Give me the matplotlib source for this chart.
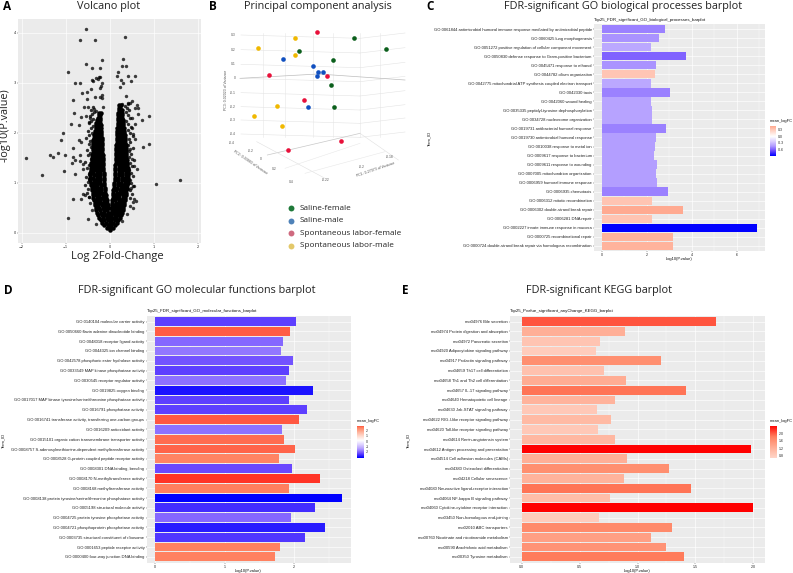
"""Five-panel figure: volcano plot, PCA and three enrichment barplots."""

import matplotlib

matplotlib.use("Agg")

import matplotlib.pyplot as plt
import numpy as np
from matplotlib.colors import LinearSegmentedColormap, Normalize
from matplotlib.ticker import MultipleLocator

# volcano: scattered points
volcano_x = [-0.54, 0.35, -0.68, -0.34, -0.17, 0.29, -0.53, 0.27, 0.37, -0.40, -0.23, -0.95, 0.19, 0.17, 0.41,
             0.58, -0.25, -0.30, -0.22, -0.40, -0.37, -0.26, 0.25, 0.48, -0.78, -0.67, -0.17, 0.31, 0.24, -0.20,
             -0.42, -0.52, -0.63, -0.23, -0.17, 0.36, -0.34, -0.22, -0.83, -0.52, 0.51, -0.18, 0.42, 0.61, 0.20,
             0.28, 0.46, -0.49, -0.59, -0.16, 0.63, 0.57, -0.80, -0.36, -0.30, 0.88, 0.73, -0.66, -0.54, -0.45,
             -0.88, -0.69, -0.48, 0.51, 0.63, -1.07, -1.11, -0.84, -0.69, -0.64, -1.89, -1.36, -1.28, -1.18, -1.02,
             -0.84, -0.86, -0.78, -0.68, 0.88, 0.76, -0.67, -0.61, -1.03, -1.53, -0.79, -0.60, 1.05, 1.59, -0.84,
             -0.64, -0.60, -0.57, -0.46, -0.94, -0.50, 0.54, 0.60, 0.52, 0.46, 0.52, 0.39, -0.41, -0.31, -0.22,
             0.27, -0.45, 0.55, 0.48, 0.42, 0.61, 0.54, 0.50, 0.46, 0.58, 0.52, 0.58, 0.50]
volcano_y = [4.08, 3.93, 3.87, 3.86, 3.45, 3.47, 3.38, 3.35, 3.35, 3.30, 3.31, 3.23, 3.23, 3.14, 3.14,
             3.15, 3.13, 3.11, 3.12, 3.07, 3.05, 3.08, 3.06, 3.04, 2.99, 3.01, 3.00, 2.99, 2.92, 2.93,
             2.87, 2.82, 2.79, 2.90, 2.75, 2.73, 2.72, 2.71, 2.65, 2.67, 2.64, 2.69, 2.58, 2.56, 2.53,
             2.59, 2.61, 2.52, 2.51, 2.52, 2.50, 2.49, 2.40, 2.48, 2.43, 2.34, 2.25, 2.31, 2.33, 2.30,
             2.18, 2.15, 2.21, 2.29, 2.37, 2.01, 1.85, 1.69, 1.85, 1.81, 1.50, 1.56, 1.51, 1.59, 1.56,
             1.52, 1.40, 1.46, 1.56, 1.77, 1.71, 1.43, 1.37, 1.23, 1.15, 1.17, 1.27, 0.97, 1.06, 0.67,
             0.68, 0.78, 0.75, 0.72, 0.30, 0.27, 0.67, 0.63, 0.61, 0.53, 0.50, 0.37, 0.45, 0.17, 0.27,
             0.23, 0.60, 0.93, 0.90, 0.87, 1.27, 1.33, 1.47, 1.67, 1.87, 1.97, 2.17, 2.10]

# volcano: dots thickening the outer edge of the V
edge_x = [-0.47, -0.52, -0.49, -0.55, -0.50, -0.46, -0.53, -0.48, -0.44, -0.51, -0.47, -0.56, -0.43, -0.49, -0.45,
          -0.52, -0.42, -0.48, -0.44, -0.54, -0.46, -0.41, -0.50, -0.43, -0.39, -0.47, -0.42, -0.38, -0.45, -0.40,
          -0.36, -0.43, -0.38, 0.46, 0.50, 0.47, 0.53, 0.49, 0.45, 0.52, 0.48, 0.44, 0.51, 0.46, 0.55, 0.43, 0.48,
          0.44, 0.52, 0.42, 0.47, 0.43, 0.53, 0.46, 0.41, 0.49, 0.42, 0.38, 0.46, 0.41, 0.37, 0.44, 0.39, 0.35, 0.42]
edge_y = [0.72, 0.80, 0.88, 0.95, 1.02, 1.08, 1.12, 1.18, 1.22, 1.30, 1.36, 1.42, 1.48, 1.55, 1.60,
          1.66, 1.72, 1.78, 1.84, 1.90, 1.95, 2.00, 2.05, 2.10, 2.14, 2.19, 2.24, 2.28, 2.34, 2.38,
          2.42, 2.46, 2.52, 0.70, 0.78, 0.86, 0.94, 1.00, 1.06, 1.14, 1.20, 1.26, 1.34, 1.40, 1.46, 1.52, 1.58,
          1.64, 1.70, 1.76, 1.82, 1.88, 1.94, 2.00, 2.06, 2.12, 2.18, 2.24, 2.30, 2.36, 2.42, 2.46, 2.50, 2.54, 2.60]

# volcano: the dense V, row by row
core_rows = [
    (0.05, [0.0]),
    (0.10, [-0.07, 0.0, 0.07]),
    (0.15, [-0.12, -0.04, 0.04, 0.11]),
    (0.20, [-0.17, -0.08, 0.0, 0.08, 0.16]),
    (0.25, [-0.20, -0.12, -0.04, 0.04, 0.12, 0.19]),
    (0.30, [-0.24, -0.15, -0.07, 0.01, 0.08, 0.15, 0.23]),
    (0.35, [-0.26, -0.18, -0.10, -0.03, 0.04, 0.11, 0.18, 0.25]),
    (0.40, [-0.28, -0.20, -0.12, -0.05, 0.01, 0.08, 0.15, 0.21, 0.27]),
    (0.45, [-0.30, -0.22, -0.14, -0.07, 0.05, 0.12, 0.19, 0.24, 0.29]),
    (0.50, [-0.31, -0.24, -0.16, -0.09, -0.04, 0.04, 0.09, 0.16, 0.23, 0.30]),
    (0.55, [-0.33, -0.26, -0.18, -0.11, -0.05, 0.05, 0.12, 0.19, 0.26, 0.32]),
    (0.60, [-0.34, -0.27, -0.20, -0.12, -0.06, 0.06, 0.14, 0.21, 0.28, 0.33]),
    (0.65, [-0.35, -0.28, -0.21, -0.14, -0.07, 0.06, 0.13, 0.20, 0.27, 0.34]),
    (0.70, [-0.37, -0.29, -0.22, -0.15, -0.08, 0.07, 0.15, 0.22, 0.29, 0.35]),
    (0.75, [-0.38, -0.31, -0.24, -0.16, -0.09, 0.07, 0.14, 0.21, 0.29, 0.36]),
    (0.80, [-0.39, -0.32, -0.25, -0.17, -0.10, 0.08, 0.16, 0.23, 0.31, 0.37]),
    (0.85, [-0.40, -0.33, -0.26, -0.19, -0.11, 0.08, 0.15, 0.23, 0.30, 0.38]),
    (0.90, [-0.41, -0.34, -0.27, -0.19, -0.11, 0.09, 0.17, 0.25, 0.32, 0.39]),
    (0.95, [-0.42, -0.35, -0.28, -0.20, -0.12, 0.10, 0.18, 0.25, 0.33, 0.40]),
    (1.00, [-0.43, -0.36, -0.28, -0.21, -0.12, 0.10, 0.18, 0.26, 0.34, 0.41]),
    (1.05, [-0.44, -0.36, -0.29, -0.21, -0.13, 0.11, 0.19, 0.27, 0.35, 0.41]),
    (1.10, [-0.44, -0.37, -0.29, -0.22, -0.13, 0.11, 0.19, 0.27, 0.35, 0.42]),
    (1.15, [-0.44, -0.36, -0.29, -0.21, -0.14, 0.12, 0.20, 0.28, 0.36, 0.42]),
    (1.20, [-0.44, -0.37, -0.29, -0.22, -0.14, 0.12, 0.20, 0.28, 0.36, 0.42]),
    (1.25, [-0.43, -0.36, -0.29, -0.21, -0.15, 0.13, 0.20, 0.28, 0.35, 0.41]),
    (1.30, [-0.43, -0.36, -0.28, -0.22, -0.15, 0.13, 0.21, 0.28, 0.35, 0.41]),
    (1.35, [-0.42, -0.35, -0.28, -0.21, -0.15, 0.13, 0.20, 0.27, 0.34, 0.40]),
    (1.40, [-0.42, -0.35, -0.28, -0.22, -0.16, 0.14, 0.21, 0.28, 0.34, 0.40]),
    (1.45, [-0.41, -0.34, -0.27, -0.21, -0.16, 0.14, 0.20, 0.27, 0.33, 0.39]),
    (1.50, [-0.41, -0.34, -0.27, -0.22, -0.16, 0.14, 0.21, 0.27, 0.33, 0.38]),
    (1.55, [-0.40, -0.33, -0.27, -0.21, -0.16, 0.14, 0.20, 0.26, 0.32, 0.38]),
    (1.60, [-0.39, -0.33, -0.27, -0.22, -0.17, 0.15, 0.21, 0.27, 0.32, 0.37]),
    (1.65, [-0.39, -0.32, -0.26, -0.21, -0.17, 0.15, 0.20, 0.26, 0.31, 0.37]),
    (1.70, [-0.38, -0.32, -0.26, -0.22, -0.17, 0.15, 0.21, 0.26, 0.31, 0.36]),
    (1.75, [-0.38, -0.31, -0.26, -0.21, -0.17, 0.15, 0.20, 0.25, 0.30, 0.36]),
    (1.80, [-0.38, -0.31, -0.26, -0.22, -0.17, 0.16, 0.21, 0.26, 0.31, 0.35]),
    (1.85, [-0.37, -0.30, -0.25, -0.20, -0.17, 0.16, 0.20, 0.25, 0.30, 0.35]),
    (1.90, [-0.36, -0.30, -0.25, -0.21, -0.18, 0.16, 0.21, 0.26, 0.30, 0.34]),
    (1.95, [-0.35, -0.29, -0.24, -0.20, 0.16, 0.20, 0.25, 0.29, 0.34]),
    (2.00, [-0.34, -0.29, -0.24, -0.20, 0.17, 0.21, 0.25, 0.29, 0.33]),
    (2.05, [-0.33, -0.28, -0.24, -0.20, 0.17, 0.21, 0.26, 0.30, 0.33]),
    (2.10, [-0.32, -0.27, -0.23, -0.20, 0.17, 0.21, 0.25, 0.29, 0.32]),
    (2.15, [-0.31, -0.27, -0.23, -0.20, 0.18, 0.22, 0.26, 0.30]),
    (2.20, [-0.30, -0.26, -0.22, 0.18, 0.22, 0.26, 0.30]),
    (2.25, [-0.28, -0.24, -0.21, 0.18, 0.22, 0.25, 0.29]),
    (2.30, [-0.27, -0.23, 0.19, 0.23, 0.27]),
    (2.35, [-0.25, -0.21, 0.19, 0.23, 0.28]),
    (2.40, [-0.24, -0.20, 0.19, 0.23, 0.27]),
    (2.45, [0.20, 0.24, 0.28]),
    (2.50, [0.20, 0.24]),
    (2.55, [0.22, 0.26]),
]

# PCA: positions on the projected 3D view
pca_groups = ["Saline-female", "Saline-male", "Spontaneous labor-female", "Spontaneous labor-male"]
pca_colors = ["#0b5f1c", "#1150c0", "#e8103a", "#f0b800"]
legend_colors = ["#1f7a3a", "#4f82b8", "#cf6a7f", "#e3c86a"]
pca_x = [[448, 544, 283, 383, 379, 388], [234, 325, 354, 339, 337, 309],
         [337, 192, 367, 297, 250, 409], [269, 159, 269, 215, 147, 232]]
pca_y = [[114, 148, 154, 180, 256, 321], [178, 197, 215, 217, 229, 320],
         [95, 225, 229, 301, 451, 423], [115, 144, 165, 317, 348, 377]]
pca_z_ticks = ["0.3", "0.2", "0.1", "0", "-0.1", "-0.2", "-0.3", "-0.4"]
pca_z_levels = [105, 149, 193, 235, 278, 320, 360, 402]

# barplot C
bp_terms = [
    "GO:0061844 antimicrobial humoral immune response mediated by antimicrobial peptide",
    "GO:0060425 lung morphogenesis", "GO:0051272 positive regulation of cellular component movement",
    "GO:0050830 defense response to Gram-positive bacterium", "GO:0045471 response to ethanol",
    "GO:0044782 cilium organization", "GO:0042775 mitochondrial ATP synthesis coupled electron transport",
    "GO:0042330 taxis", "GO:0042060 wound healing", "GO:0035335 peptidyl-tyrosine dephosphorylation",
    "GO:0034728 nucleosome organization", "GO:0019731 antibacterial humoral response",
    "GO:0019730 antimicrobial humoral response", "GO:0010038 response to metal ion",
    "GO:0009617 response to bacterium", "GO:0009611 response to wounding",
    "GO:0007005 mitochondrion organization", "GO:0006959 humoral immune response",
    "GO:0006935 chemotaxis", "GO:0006312 mitotic recombination", "GO:0006302 double-strand break repair",
    "GO:0006281 DNA repair", "GO:0002227 innate immune response in mucosa",
    "GO:0000725 recombinational repair", "GO:0000724 double-strand break repair via homologous recombination",
]
bp_pvalue = [2.81, 2.55, 2.18, 3.75, 2.41, 2.37, 2.21, 3.02, 2.19, 2.24, 2.24, 2.84, 2.41,
             2.37, 2.31, 2.46, 2.41, 2.47, 2.96, 2.25, 3.63, 2.25, 6.90, 3.16, 3.16]
bp_logfc = [-0.50, -0.45, -0.38, -0.58, -0.45, 0.32, -0.38, -0.50, -0.40, -0.40, -0.40, -0.50, -0.42,
            -0.42, -0.42, -0.42, -0.42, -0.42, -0.50, 0.33, 0.46, 0.33, -0.87, 0.42, 0.42]

# barplot D
mf_terms = [
    "GO:0140104 molecular carrier activity", "GO:0050660 flavin adenine dinucleotide binding",
    "GO:0048018 receptor ligand activity", "GO:0044325 ion channel binding",
    "GO:0042578 phosphoric ester hydrolase activity", "GO:0033549 MAP kinase phosphatase activity",
    "GO:0030545 receptor regulator activity", "GO:0019825 oxygen binding",
    "GO:0017017 MAP kinase tyrosine/serine/threonine phosphatase activity", "GO:0016791 phosphatase activity",
    "GO:0016741 transferase activity, transferring one-carbon groups", "GO:0016209 antioxidant activity",
    "GO:0015101 organic cation transmembrane transporter activity",
    "GO:0008757 S-adenosylmethionine-dependent methyltransferase activity",
    "GO:0008528 G-protein coupled peptide receptor activity", "GO:0008301 DNA binding, bending",
    "GO:0008170 N-methyltransferase activity", "GO:0008168 methyltransferase activity",
    "GO:0008138 protein tyrosine/serine/threonine phosphatase activity", "GO:0005198 structural molecule activity",
    "GO:0004725 protein tyrosine phosphatase activity", "GO:0004721 phosphoprotein phosphatase activity",
    "GO:0003735 structural constituent of ribosome", "GO:0001653 peptide receptor activity",
    "GO:0000400 four-way junction DNA binding",
]
mf_pvalue = [2.03, 1.94, 1.84, 1.81, 1.98, 1.92, 1.88, 2.27, 1.92, 2.19, 2.07, 1.83, 1.85,
             2.01, 1.78, 1.97, 2.37, 1.92, 2.68, 2.30, 1.95, 2.44, 2.16, 1.79, 1.72]
mf_logfc = [-2.5, 2.6, -2.1, -1.95, -2.3, -2.5, -2.0, -3.0, -2.5, -2.5, 2.65, -2.0, 2.5,
            2.55, 2.3, -2.4, 2.85, 2.4, -3.2, -2.7, -2.1, -2.9, -2.6, 2.35, 2.35]

# barplot E
kegg_terms = [
    "mo04976 Bile secretion", "mo04974 Protein digestion and absorption", "mo04972 Pancreatic secretion",
    "mo04920 Adipocytokine signaling pathway", "mo04917 Prolactin signaling pathway",
    "mo04659 Th17 cell differentiation", "mo04658 Th1 and Th2 cell differentiation",
    "mo04657 IL-17 signaling pathway", "mo04640 Hematopoietic cell lineage", "mo04630 Jak-STAT signaling pathway",
    "mo04622 RIG-I-like receptor signaling pathway", "mo04620 Toll-like receptor signaling pathway",
    "mo04614 Renin-angiotensin system", "mo04612 Antigen processing and presentation",
    "mo04514 Cell adhesion molecules (CAMs)", "mo04380 Osteoclast differentiation", "mo04218 Cellular senescence",
    "mo04080 Neuroactive ligand-receptor interaction", "mo04064 NF-kappa B signaling pathway",
    "mo04060 Cytokine-cytokine receptor interaction", "mo03450 Non-homologous end-joining",
    "mo02010 ABC transporters", "mo00760 Nicotinate and nicotinamide metabolism",
    "mo00590 Arachidonic acid metabolism", "mo00350 Tyrosine metabolism",
]
kegg_pvalue = [1.68, 0.89, 0.68, 0.64, 1.20, 0.71, 0.90, 1.42, 0.81, 0.65, 0.77, 0.66, 0.81,
               1.98, 0.91, 1.27, 0.88, 1.46, 0.76, 2.00, 0.67, 1.30, 1.12, 1.25, 1.40]
kegg_logfc = [2.0, 1.2, 0.9, 0.8, 1.6, 0.95, 1.25, 1.85, 1.15, 0.85, 1.05, 0.85, 1.1,
              2.4, 1.2, 1.6, 1.15, 1.85, 1.0, 2.4, 0.8, 1.65, 1.4, 1.55, 1.8]

W, H = 793, 573
PANEL_BG = "#EBEBEB"
TITLE_FONT = "Open Sans"
SMALL_FONT = "Liberation Sans"

# same look as ggplot's blue-white-red gradient in Lab space
fc_cmap = LinearSegmentedColormap.from_list(
    "fc",
    ["#0000FF", "#6A48FF", "#B09AFF", "#DCCFFF", "#FFFFFF", "#FFDACE", "#FFB098", "#FF7F5E", "#FF0000"],
)


def px_axes(fig, left, top, right, bottom):
    return fig.add_axes([left / W, 1 - bottom / H, (right - left) / W, (bottom - top) / H])


def style_gg(ax):
    ax.set_facecolor(PANEL_BG)
    for spine in ax.spines.values():
        spine.set_visible(False)
    ax.grid(True, which="major", color="white", linewidth=0.45)
    ax.grid(True, which="minor", axis="x", color="white", linewidth=0.25)
    ax.set_axisbelow(True)
    ax.tick_params(which="major", length=1, width=0.3, pad=0.6, labelsize=3.0, color="#333333", labelcolor="#222222")
    ax.tick_params(which="minor", length=0)


def draw_barplot(fig, box, terms, pvalue, logfc, xlim, major, tick_fmt, title, cbar_box, cbar_ticks, cbar_fmt, ylabel_x):
    ax = px_axes(fig, *box)
    style_gg(ax)
    limit = max(abs(v) for v in logfc)
    norm = Normalize(-limit, limit)
    y = np.arange(len(terms), 0, -1)
    ax.barh(y, pvalue, height=0.9, color=fc_cmap(norm(logfc)), zorder=3)
    ax.set_yticks(y)
    ax.set_yticklabels(terms, fontfamily=SMALL_FONT, fontsize=3.0)
    ax.set_ylim(0.4, len(terms) + 0.6)
    ax.set_xlim(*xlim)
    ax.xaxis.set_major_locator(MultipleLocator(major))
    ax.xaxis.set_minor_locator(MultipleLocator(major / 2))
    ax.xaxis.set_major_formatter(tick_fmt)
    for label in ax.get_xticklabels():
        label.set_fontfamily(SMALL_FONT)
        label.set_fontsize(2.6)
    ax.text(box[0] / W, 1 - (box[1] - 4.5) / H, title, transform=fig.transFigure, fontsize=3.2,
            fontfamily=SMALL_FONT, va="center", color="#111111")
    ax.text((box[0] + box[2]) / 2 / W - 0.001, 1 - (box[3] + 8) / H, "-log10(P.value)", transform=fig.transFigure,
            fontsize=2.9, fontfamily=SMALL_FONT, ha="center", va="center", color="#111111")
    ax.text(ylabel_x / W, 1 - ((box[1] + box[3]) / 2 + 1) / H, "Term_ID", transform=fig.transFigure, fontsize=2.9,
            fontfamily=SMALL_FONT, rotation=90, ha="center", va="center", color="#111111")

    # colour bar
    cax = px_axes(fig, *cbar_box)
    low, high = cbar_ticks[0], cbar_ticks[1]
    grad = np.linspace(high, low, 64).reshape(-1, 1)
    cax.imshow(grad, aspect="auto", cmap=fc_cmap, norm=norm, extent=[0, 1, low, high])
    for spine in cax.spines.values():
        spine.set_visible(False)
    cax.set_xticks([])
    cax.yaxis.tick_right()
    cax.set_yticks(cbar_ticks[2])
    cax.set_yticklabels([cbar_fmt(t) for t in cbar_ticks[2]], fontfamily=SMALL_FONT, fontsize=2.5, color="#222222")
    cax.tick_params(length=0, pad=1.6)
    cax.text(0, 1.09, "mean_logFC", transform=cax.transAxes, fontsize=2.9, fontfamily=SMALL_FONT, va="bottom",
             color="#111111")
    return ax


fig = plt.figure(figsize=(W / 100, H / 100), dpi=100)

# A: volcano
ax_a = px_axes(fig, 18, 19, 201, 243)
style_gg(ax_a)
ax_a.tick_params(labelsize=2.5)
core_x = [x for _, row in core_rows for x in row]
core_y = [y for y, row in core_rows for _ in row]
ax_a.scatter(core_x, core_y, s=10.5, c="black", linewidths=0, zorder=3)
ax_a.scatter(edge_x, edge_y, s=6, c="black", alpha=0.8, linewidths=0, zorder=4)
ax_a.scatter(volcano_x, volcano_y, s=6, c="black", alpha=0.75, linewidths=0, zorder=4)
ax_a.set_xlim(-2.08, 2.07)
ax_a.set_ylim(-0.2, 4.28)
ax_a.set_xticks([-2, -1, 0, 1, 2])
ax_a.set_yticks([0, 1, 2, 3, 4])
fig.text(117 / W, 1 - 257 / H, "Log 2Fold-Change", fontsize=8.0, fontfamily=TITLE_FONT, ha="center", va="center",
         color="#222222")
fig.text(5 / W, 1 - 125 / H, "-log10(P.value)", fontsize=7.8, fontfamily=TITLE_FONT, rotation=90, ha="center",
         va="center", color="#222222")

# B: PCA, drawn on the projected view of the 3D scatter
ax_b = px_axes(fig, 205, 0, 415, 270)
ax_b.set_xlim(0, 630)
ax_b.set_ylim(810, 0)
ax_b.axis("off")
for level in pca_z_levels:
    ax_b.plot([108, 465], [level, level + 10], color="#e4e4e4", lw=0.4, zorder=1)
    ax_b.plot([465, 600], [level + 10, level - 6], color="#e4e4e4", lw=0.4, zorder=1)
for xpos in [175, 240, 325, 385, 465, 525]:
    ax_b.plot([xpos, xpos], [100, 410], color="#e6e6e6", lw=0.4, zorder=1)
ax_b.plot([105, 340, 600], [235, 222, 240], color="#bdbdbd", lw=0.5, zorder=1)
ax_b.plot([187, 465], [465, 400], color="#c8c8c8", lw=0.5, zorder=1)
ax_b.plot([155, 360], [425, 535], color="#e0e0e0", lw=0.4, zorder=1)
ax_b.plot([465, 580], [400, 480], color="#e0e0e0", lw=0.4, zorder=1)
ax_b.plot([240, 465], [505, 430], color="#e8e8e8", lw=0.4, zorder=1)
ax_b.plot([300, 540], [520, 455], color="#e8e8e8", lw=0.4, zorder=1)
for level, tick in zip(pca_z_levels, pca_z_ticks):
    ax_b.text(92, level, tick, fontsize=2.4, ha="right", va="center", color="#555555", fontfamily=SMALL_FONT)
for (tx, ty, tick) in [(80, 430, "-0.4"), (137, 452, "-0.2"), (168, 478, "0"), (208, 508, "0.2"), (260, 546, "0.4"),
                       (362, 541, "-0.22"), (470, 500, "-0.2"), (555, 470, "-0.18")]:
    ax_b.text(tx, ty, tick, fontsize=2.4, ha="center", va="center", color="#555555", fontfamily=SMALL_FONT)
ax_b.text(63, 270, "PC3: 0.02023 of Variance", fontsize=2.5, rotation=90, ha="center", va="center", color="#555555",
          fontfamily=SMALL_FONT)
ax_b.text(135, 487, "PC2: 0.03883 of Variance", fontsize=2.5, rotation=-34, ha="center", va="center",
          color="#555555", fontfamily=SMALL_FONT)
ax_b.text(512, 508, "PC1: 0.27073 of Variance", fontsize=2.5, rotation=19, ha="center", va="center", color="#555555",
          fontfamily=SMALL_FONT)
for group_x, group_y, color in zip(pca_x, pca_y, pca_colors):
    ax_b.scatter(group_x, group_y, s=11, c=color, linewidths=0, zorder=3)
for ypos, name, color in zip([625, 662, 700, 737], pca_groups, legend_colors):
    ax_b.scatter([257], [ypos], s=18, c=color, linewidths=0, zorder=3)
    ax_b.text(285, ypos + 1, name, fontsize=5.85, fontfamily=TITLE_FONT, va="center", color="#222222")

# C, D, E: barplots
draw_barplot(fig, (594, 24, 765, 251), bp_terms, bp_pvalue, bp_logfc, (-0.34, 7.26), 2, lambda v, p: f"{v:g}",
             "Top25_FDR_significant_GO_biological_processes_barplot", (770, 126, 775.7, 155.7),
             (-0.87, 0.46, [0.3, 0.0, -0.3, -0.6]), lambda t: f"{t:.1f}", 429)
draw_barplot(fig, (146.7, 315.7, 351, 562.7), mf_terms, mf_pvalue, mf_logfc, (-0.124, 2.816), 1, lambda v, p: f"{v:g}",
             "Top25_FDR_significant_GO_molecular_functions_barplot", (356.7, 426, 363.3, 458.3),
             (-3.2, 2.8, [2, 1, 0, -1, -2]), lambda t: f"{t:d}", 3)
draw_barplot(fig, (510, 315.7, 765, 562.7), kegg_terms, kegg_pvalue, kegg_logfc, (-0.10, 2.10), 0.5,
             lambda v, p: f"{v:.1f}", "Top25_Pvalue_significant_anyChange_KEGG_barplot", (770, 426, 776.7, 458),
             (0.66, 2.4, [2.0, 1.6, 1.2, 0.8]), lambda t: f"{t:.1f}", 408)

# panel letters and headings
for xpos, ypos, letter in [(3, 6, "A"), (209, 6, "B"), (426, 6, "C"), (4, 291, "D"), (402, 291, "E")]:
    fig.text(xpos / W, 1 - ypos / H, letter, fontsize=8.5, fontweight="bold", fontfamily=TITLE_FONT, va="center")
for xpos, ypos, heading in [(108.7, 6, "Volcano plot"), (318, 6, "Principal component analysis"),
                            (623, 6, "FDR-significant GO biological processes barplot"),
                            (197, 291, "FDR-significant GO molecular functions barplot"),
                            (599, 291, "FDR-significant KEGG barplot")]:
    fig.text(xpos / W, 1 - ypos / H, heading, fontsize=7.85, fontfamily=TITLE_FONT, ha="center", va="center",
             color="#222222")

fig.savefig("out.png", dpi=100)
plt.close(fig)
